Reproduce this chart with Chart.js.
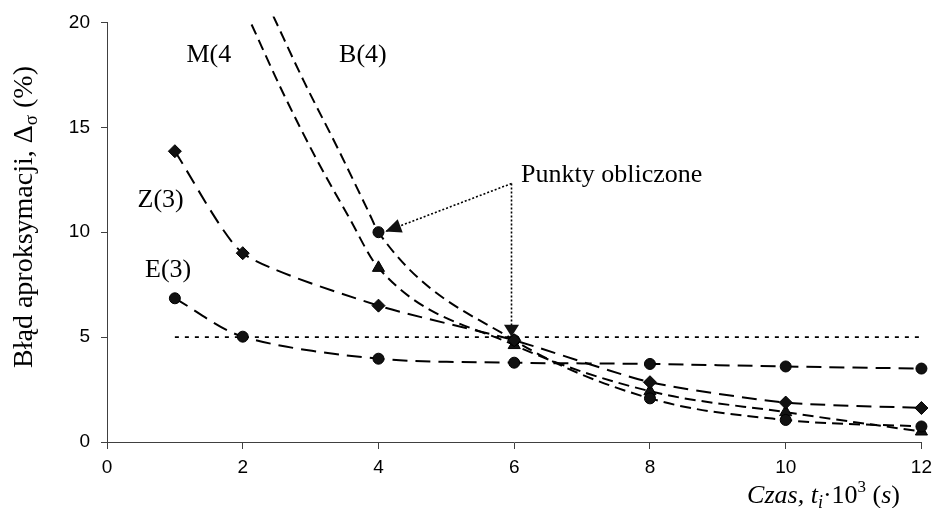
<!DOCTYPE html>
<html>
<head>
<meta charset="utf-8">
<script src="https://cdn.jsdelivr.net/npm/chart.js@4.4.1/dist/chart.umd.min.js"></script>
<style>
html,body{margin:0;padding:0;background:#fff;}
canvas{display:block;}
</style>
</head>
<body>
<canvas id="c" width="939" height="508" style="width:939px;height:508px"></canvas>
<script>
// ---- data ----
const timeTicks = [0, 2, 4, 6, 8, 10, 12];
const errorTicks = [0, 5, 10, 15, 20];

const timeEZ = [1, 2, 4, 6, 8, 10, 12];
const seriesE = [6.85, 5.02, 3.97, 3.78, 3.72, 3.60, 3.50];
const seriesZ = [13.86, 9.0, 6.5, 4.85, 2.85, 1.88, 1.62];

const timeBM = [4, 6, 8, 10, 12];
const seriesB = [10.0, 4.85, 2.08, 1.05, 0.74];
const seriesM = [8.3, 4.62, 2.42, 1.42, 0.5];

// traced course of the B and M curves above the first marker (no markers there)
const curveBx = [2.45, 2.9, 3.4, 3.85];
const curveBy = [20.3, 17.2, 14.0, 11.0];
const curveMx = [2.13, 2.6, 3.1, 3.55];
const curveMy = [19.9, 16.6, 13.4, 10.8];

// 5 % reference level
const levelX = [1, 12];
const levelY = [5, 5];

// "Punkty obliczone" arrows (apex and tips, data units)
const arrowApex = [5.96, 12.32];
const arrowTips = [[4.1, 10.03], [5.96, 5.02]];

const pts = (xs, ys) => xs.map((x, i) => ({x: x, y: ys[i]}));

const datasets = [
  {
    label: 'E(3)', data: pts(timeEZ, seriesE),
    borderDash: [15, 8], pointStyle: 'circle', pointRadius: 5.5, tension: 0.3
  },
  {
    label: 'Z(3)', data: pts(timeEZ, seriesZ),
    borderDash: [15, 8], pointStyle: 'rectRot', pointRadius: 6.5, tension: 0.2
  },
  {
    label: 'B(4)', data: pts(curveBx.concat(timeBM), curveBy.concat(seriesB)),
    borderDash: [11, 6], pointStyle: 'circle', cubicInterpolationMode: 'monotone',
    pointRadius: curveBx.map(() => 0).concat(timeBM.map(() => 5.5))
  },
  {
    label: 'M(4)', data: pts(curveMx.concat(timeBM), curveMy.concat(seriesM)),
    borderDash: [11, 6], pointStyle: 'triangle', cubicInterpolationMode: 'monotone',
    pointRadius: curveMx.map(() => 0).concat(timeBM.map(() => 7))
  },
  {
    label: 'level', data: pts(levelX, levelY),
    borderDash: [4, 6], pointRadius: 0, tension: 0, borderWidth: 1.8
  }
].map(d => Object.assign({
  showLine: true, borderColor: '#000', backgroundColor: '#111',
  pointBackgroundColor: '#111', pointBorderColor: '#000', pointBorderWidth: 1,
  borderWidth: 2, tension: 0.35, clip: {left: 10, top: 6, right: 12, bottom: 10}
}, d));

const decor = {
  id: 'decor',
  afterDatasetsDraw(chart, args, opts) {
    const ctx = chart.ctx, xs = chart.scales.x, ys = chart.scales.y;
    const px = v => xs.getPixelForValue(v), py = v => ys.getPixelForValue(v);
    ctx.save();
    // series labels
    ctx.fillStyle = '#000';
    ctx.font = '26px "Liberation Serif"';
    ctx.textAlign = 'left';
    ctx.textBaseline = 'alphabetic';
    opts.labels.forEach(l => ctx.fillText(l.text, px(l.x), py(l.y)));
    // arrows
    const ax = px(arrowApex[0]), ay = py(arrowApex[1]);
    ctx.strokeStyle = '#000';
    ctx.lineWidth = 1.6;
    ctx.setLineDash([2, 2]);
    arrowTips.forEach(t => {
      ctx.beginPath();
      ctx.moveTo(ax, ay);
      ctx.lineTo(px(t[0]), py(t[1]));
      ctx.stroke();
    });
    ctx.setLineDash([]);
    arrowTips.forEach((t, i) => {
      const tx = px(t[0]), ty = py(t[1]);
      const ang = Math.atan2(ty - ay, tx - ax);
      const L = opts.heads[i].len, W = opts.heads[i].half;
      const bx = tx - Math.cos(ang) * L, by = ty - Math.sin(ang) * L;
      ctx.beginPath();
      ctx.moveTo(tx, ty);
      ctx.lineTo(bx - Math.sin(ang) * W, by + Math.cos(ang) * W);
      ctx.lineTo(bx + Math.sin(ang) * W, by - Math.cos(ang) * W);
      ctx.closePath();
      ctx.fillStyle = '#111';
      ctx.fill();
    });
    ctx.restore();
  },
  afterDraw(chart) {
    const ctx = chart.ctx;
    ctx.save();
    ctx.fillStyle = '#000';
    ctx.textBaseline = 'alphabetic';
    ctx.textAlign = 'left';
    // y title (rotated)
    const yParts = [
      {t: 'Błąd aproksymacji, Δ', f: '28px "Liberation Serif"', dy: 0},
      {t: 'σ', f: '19px "Liberation Serif"', dy: 5},
      {t: ' (%)', f: '28px "Liberation Serif"', dy: 0}
    ];
    let tot = 0;
    yParts.forEach(p => { ctx.font = p.f; p.w = ctx.measureText(p.t).width; tot += p.w; });
    ctx.translate(32, 217);
    ctx.rotate(-Math.PI / 2);
    let cx = -tot / 2;
    yParts.forEach(p => { ctx.font = p.f; ctx.fillText(p.t, cx, p.dy); cx += p.w; });
    ctx.setTransform(1, 0, 0, 1, 0, 0);
    // x title
    const xParts = [
      {t: 'Czas, ', f: 'italic 26px "Liberation Serif"', dy: 0},
      {t: 't', f: 'italic 26px "Liberation Serif"', dy: 0},
      {t: 'i', f: 'italic 18px "Liberation Serif"', dy: 5},
      {t: '·10', f: '26px "Liberation Serif"', dy: 0},
      {t: '3', f: '17px "Liberation Serif"', dy: -11},
      {t: ' (', f: '26px "Liberation Serif"', dy: 0},
      {t: 's', f: 'italic 26px "Liberation Serif"', dy: 0},
      {t: ')', f: '26px "Liberation Serif"', dy: 0}
    ];
    tot = 0;
    xParts.forEach(p => { ctx.font = p.f; p.w = ctx.measureText(p.t).width; tot += p.w; });
    cx = 900 - tot;
    xParts.forEach(p => { ctx.font = p.f; ctx.fillText(p.t, cx, 503 + p.dy); cx += p.w; });
    ctx.restore();
  }
};

const axisColor = '#404040';
new Chart(document.getElementById('c'), {
  type: 'scatter',
  data: {datasets: datasets},
  plugins: [decor],
  options: {
    responsive: false,
    animation: false,
    events: [],
    layout: {padding: {top: 22, right: 14, left: 0, bottom: 0}},
    plugins: {
      legend: {display: false},
      tooltip: {enabled: false},
      decor: {
        labels: [
          {text: 'M(4', x: 1.17, y: 18.09},
          {text: 'B(4)', x: 3.42, y: 18.09},
          {text: 'Z(3)', x: 0.45, y: 11.22},
          {text: 'E(3)', x: 0.56, y: 7.88},
          {text: 'Punkty obliczone', x: 6.1, y: 12.41}
        ],
        heads: [{len: 16, half: 7}, {len: 12, half: 7.5}]
      }
    },
    scales: {
      x: {
        type: 'linear', min: 0, max: 12,
        afterBuildTicks: s => { s.ticks = timeTicks.map(v => ({value: v})); },
        ticks: {font: {family: '"Liberation Sans"', size: 19}, color: '#000', padding: 7, maxRotation: 0},
        grid: {drawOnChartArea: false, drawTicks: true, tickLength: 7, color: axisColor, lineWidth: 1},
        border: {display: true, color: axisColor, width: 1},
        afterFit: s => { s.height = 66; }
      },
      y: {
        type: 'linear', min: 0, max: 20,
        afterBuildTicks: s => { s.ticks = errorTicks.map(v => ({value: v})); },
        ticks: {font: {family: '"Liberation Sans"', size: 19}, color: '#000', padding: 11},
        grid: {drawOnChartArea: false, drawTicks: true, tickLength: 6, color: axisColor, lineWidth: 1},
        border: {display: true, color: axisColor, width: 1},
        afterFit: s => { s.width = 107; }
      }
    }
  }
});
</script>
</body>
</html>
